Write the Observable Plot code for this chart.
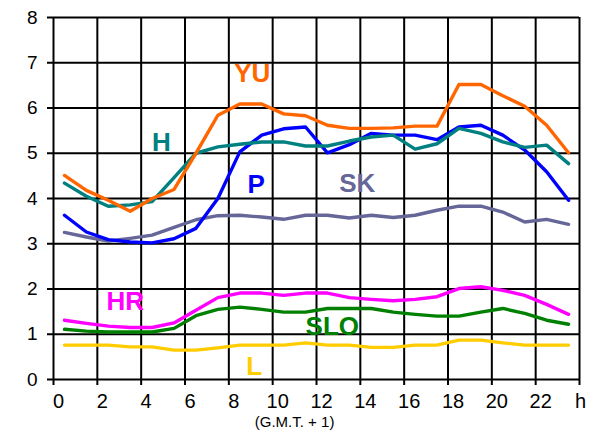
<!DOCTYPE html>
<html>
<head>
<meta charset="utf-8">
<script src="https://cdn.jsdelivr.net/npm/d3@7"></script>
<script src="https://cdn.jsdelivr.net/npm/@observablehq/plot@0.6"></script>
<style>
  body { margin: 0; background: #fff; }
  #chart svg { font-family: "Liberation Sans", Arial, sans-serif; }
</style>
</head>
<body>
<div id="chart"></div>
<script>
// hours of day (G.M.T. + 1)
const hours = d3.range(24);
const xTicks = [0, 2, 4, 6, 8, 10, 12, 14, 16, 18, 20, 22];
const yTicks = [0, 1, 2, 3, 4, 5, 6, 7, 8];

const YU  = [4.51, 4.18, 3.96, 3.72, 4.00, 4.20, 5.00, 5.84, 6.09, 6.09, 5.87, 5.83, 5.62, 5.55, 5.55, 5.56, 5.60, 5.60, 6.52, 6.52, 6.27, 6.04, 5.62, 5.01];
const H   = [4.34, 4.05, 3.83, 3.86, 3.93, 4.46, 5.00, 5.14, 5.20, 5.25, 5.25, 5.16, 5.16, 5.27, 5.36, 5.40, 5.09, 5.21, 5.55, 5.44, 5.25, 5.13, 5.18, 4.77];
const P   = [3.63, 3.26, 3.09, 3.04, 3.02, 3.11, 3.34, 4.00, 5.03, 5.40, 5.54, 5.58, 5.01, 5.19, 5.44, 5.40, 5.40, 5.30, 5.58, 5.62, 5.40, 5.07, 4.59, 3.96];
const SK  = [3.25, 3.15, 3.06, 3.12, 3.19, 3.36, 3.53, 3.62, 3.63, 3.59, 3.54, 3.63, 3.63, 3.57, 3.63, 3.58, 3.63, 3.74, 3.83, 3.83, 3.70, 3.48, 3.54, 3.43];
const HR  = [1.31, 1.24, 1.18, 1.15, 1.15, 1.25, 1.53, 1.81, 1.91, 1.91, 1.86, 1.91, 1.91, 1.81, 1.77, 1.74, 1.77, 1.83, 2.01, 2.05, 1.97, 1.86, 1.66, 1.44];
const SLO = [1.11, 1.07, 1.05, 1.05, 1.05, 1.13, 1.41, 1.55, 1.60, 1.55, 1.49, 1.49, 1.57, 1.57, 1.57, 1.49, 1.44, 1.40, 1.40, 1.49, 1.57, 1.46, 1.31, 1.22];
const L   = [0.76, 0.76, 0.76, 0.72, 0.72, 0.65, 0.65, 0.70, 0.76, 0.76, 0.76, 0.81, 0.76, 0.76, 0.71, 0.71, 0.76, 0.76, 0.87, 0.87, 0.81, 0.76, 0.76, 0.76];

const names  = ["L", "SLO", "HR", "SK", "P", "H", "YU"];
const colors = ["#FFCC00", "#008000", "#FF00FF", "#666699", "#0000FF", "#008080", "#FF6600"];
const seriesValues = [L, SLO, HR, SK, P, H, YU];

// in-chart series labels (data coordinates)
const labelNames = ["YU", "H", "P", "SK", "HR", "SLO", "L"];
const labelHour  = [9.07, 4.92, 9.25, 13.86, 3.27, 12.72, 9.16];
const labelValue = [6.75, 5.24, 4.30, 4.32, 1.71, 1.16, 0.29];

const rows = names.flatMap((n, k) =>
  seriesValues[k].map((v, i) => ({ name: n, hour: hours[i] + 0.5, value: v }))
);
const labels = labelNames.map((n, i) => ({ name: n, x: labelHour[i], y: labelValue[i] }));

const chart = Plot.plot({
  width: 594,
  height: 433,
  marginLeft: 53,
  marginRight: 15,
  marginTop: 17,
  marginBottom: 54,
  style: { fontFamily: "Liberation Sans, Arial, sans-serif", background: "#fff" },
  x: { domain: [0, 24] },
  y: { domain: [0, 8] },
  color: { domain: names, range: colors },
  marks: [
    Plot.gridX(d3.range(0, 25, 2), { stroke: "#000", strokeOpacity: 1, strokeWidth: 2 }),
    Plot.gridY(yTicks, { stroke: "#000", strokeOpacity: 1, strokeWidth: 2 }),
    Plot.axisX(d3.range(0, 25, 2), { tickSize: 6, text: null, stroke: "#000", strokeWidth: 2, label: null }),
    Plot.axisX(xTicks, { tickSize: 0, tickPadding: 14, fontSize: 20, dx: 5, label: null, fill: "#000" }),
    Plot.axisX([24], { tickSize: 0, tickPadding: 14, fontSize: 20, dx: 1, tickFormat: () => "h", label: null, fill: "#000" }),
    Plot.axisY(yTicks, { tickSize: 6, tickPadding: 10, fontSize: 19, label: null, stroke: "#000", strokeWidth: 2, fill: "#000" }),
    Plot.text(["(G.M.T. + 1)"], { x: () => 11, y: () => 0, dy: 43, fontSize: 15, letterSpacing: "-0.3px", fill: "#000" }),
    Plot.line(rows, { x: "hour", y: "value", z: "name", stroke: "name", strokeWidth: 3.4, strokeLinejoin: "round", strokeLinecap: "round" }),
    Plot.text(labels, { x: "x", y: "y", text: "name", fill: "name", fontSize: 26, fontWeight: "bold" })
  ]
});
document.getElementById("chart").appendChild(chart);
</script>
</body>
</html>
